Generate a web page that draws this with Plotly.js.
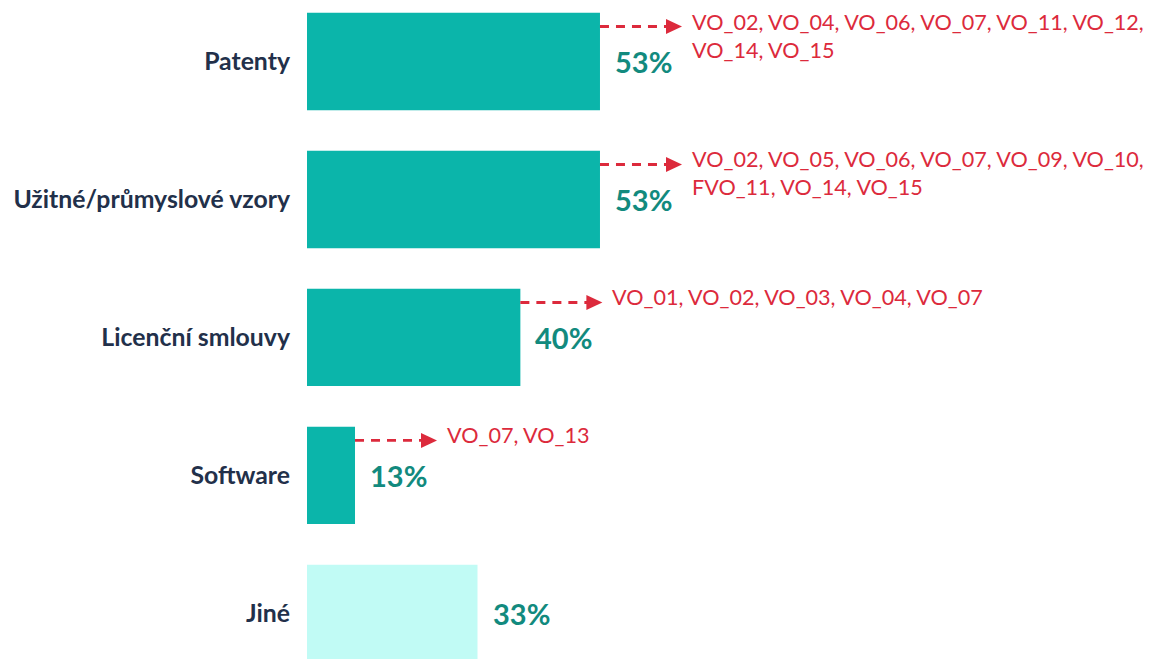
<!DOCTYPE html>
<html>
<head>
<meta charset="utf-8">
<script src="https://cdn.plot.ly/plotly-3.0.1.min.js"></script>
<style>html,body{margin:0;padding:0;background:#fff;}#chart{width:1153px;height:659px;}</style>
</head>
<body>
<div id="chart"></div>
<script>
const categories = ["Patenty", "Užitné/průmyslové vzory", "Licenční smlouvy", "Software", "Jiné"];
const values = [53, 53, 40, 13, 33];
const valueLabels = ["53%", "53%", "40%", "13%", "33%"];
const notes = [
  "VO_02, VO_04, VO_06, VO_07, VO_11, VO_12,<br>VO_14, VO_15",
  "VO_02, VO_05, VO_06, VO_07, VO_09, VO_10,<br>FVO_11, VO_14, VO_15",
  "VO_01, VO_02, VO_03, VO_04, VO_07",
  "VO_07, VO_13",
  ""
];
const barColors = ["#0bb5aa", "#0bb5aa", "#0bb5aa", "#0bb5aa", "#c1fbf5"];

const RED = "#dc2a3c";
const FONT = "Lato, 'Open Sans', sans-serif";

const trace = {
  type: "bar",
  orientation: "h",
  x: values,
  y: categories,
  marker: {color: barColors, line: {width: 0}},
  hoverinfo: "skip"
};

const annotations = [];
const shapes = [];
categories.forEach((c, i) => {
  annotations.push({
    x: values[i], y: c, xref: "x", yref: "y",
    text: valueLabels[i], showarrow: false,
    xanchor: "left", yanchor: "middle", xshift: 13, yshift: 0,
    font: {family: FONT, size: 29, color: "#128a7e", weight: "bold"}
  });
  if (notes[i]) {
    annotations.push({
      x: values[i], y: c, xref: "x", yref: "y",
      text: notes[i], showarrow: false, align: "left",
      xanchor: "left", yanchor: "top", xshift: 90, yshift: 55,
      font: {family: FONT, size: 21.6, color: RED}
    });
    shapes.push({
      type: "line", xref: "x", yref: "y",
      xsizemode: "pixel", ysizemode: "pixel",
      xanchor: values[i], yanchor: c,
      x0: 0, x1: 68, y0: 35, y1: 35,
      line: {color: RED, width: 2.8, dash: "9px,7px"}
    });
    shapes.push({
      type: "path", xref: "x", yref: "y",
      xsizemode: "pixel", ysizemode: "pixel",
      xanchor: values[i], yanchor: c,
      path: "M66,42.5 L82,35 L66,27.5 Z",
      fillcolor: RED, line: {color: RED, width: 0}
    });
  }
});

const layout = {
  width: 1153, height: 659,
  margin: {l: 307, r: 0, t: 0, b: 0, pad: 0},
  paper_bgcolor: "#fff", plot_bgcolor: "#fff",
  showlegend: false,
  bargap: 0.295,
  xaxis: {range: [5.16, 143.3], showgrid: false, zeroline: false, showticklabels: false, showline: false, ticks: ""},
  yaxis: {
    type: "category", range: [4.33, -0.4457],
    showgrid: false, zeroline: false, showline: false, ticks: "",
    ticklabelstandoff: 16,
    tickfont: {family: FONT, size: 24.8, color: "#22304a", weight: "bold"}
  },
  annotations: annotations,
  shapes: shapes
};

Plotly.newPlot("chart", [trace], layout, {displayModeBar: false, staticPlot: true});
</script>
</body>
</html>
